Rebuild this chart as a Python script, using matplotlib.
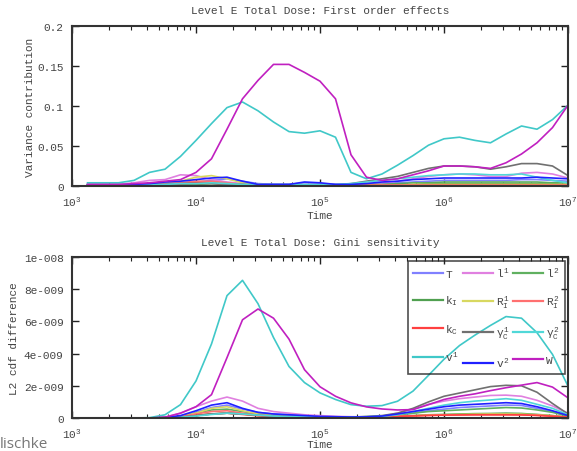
import matplotlib
matplotlib.use("Agg")
import matplotlib.pyplot as plt
from matplotlib.ticker import LogLocator, NullFormatter, FixedLocator, FixedFormatter
import numpy as np

plt.rcParams['font.family'] = ['Liberation Mono', 'DejaVu Sans']
plt.rcParams['mathtext.fontset'] = 'custom'
plt.rcParams['mathtext.rm'] = 'Liberation Mono'
plt.rcParams['mathtext.it'] = 'Liberation Mono'
plt.rcParams['mathtext.bf'] = 'Liberation Mono'

# time points
times = [1334, 1778, 2371, 3162, 4217, 5623, 7499, 10000, 13335, 17783, 23714,
         31623, 42170, 56234, 74989, 100000, 133352, 177828, 237137, 316228,
         421697, 562341, 749894, 1000000, 1333521, 1778279, 2371374, 3162278,
         4216965, 5623413, 7498942, 10000000]

labels = ['T', '$l^1$', '$l^2$', '$k_I$', '$R_I^1$', '$R_I^2$',
          '$k_C$', '$\\gamma_C^1$', '$\\gamma_C^2$', '$v^1$', '$v^2$', 'W']
colors = ['#8080ff', '#e080e0', '#60b060', '#50a050', '#d8d860', '#ff7070',
          '#ff4040', '#707070', '#50d8d8', '#40c8c8', '#2020ff', '#c020c0']

# first order effects (variance contribution)
fo_T = [0.001, 0.001, 0.001, 0.001, 0.002, 0.003, 0.004, 0.005, 0.007, 0.009, 0.006, 0.003, 0.002, 0.002, 0.004, 0.003,
        0.002, 0.002, 0.002, 0.003, 0.004, 0.005, 0.006, 0.007, 0.007, 0.007, 0.007, 0.007, 0.008, 0.008, 0.007, 0.006]
fo_l1 = [0.002, 0.002, 0.002, 0.004, 0.007, 0.008, 0.014, 0.013, 0.008, 0.005, 0.003, 0.002, 0.002, 0.002, 0.002, 0.002,
         0.002, 0.002, 0.003, 0.004, 0.006, 0.009, 0.012, 0.014, 0.015, 0.014, 0.012, 0.012, 0.016, 0.017, 0.015, 0.010]
fo_l2 = [0.001, 0.001, 0.001, 0.001, 0.001, 0.002, 0.003, 0.004, 0.004, 0.003, 0.002, 0.001, 0.001, 0.001, 0.001, 0.001,
         0.001, 0.001, 0.002, 0.002, 0.003, 0.004, 0.004, 0.005, 0.005, 0.005, 0.005, 0.005, 0.005, 0.005, 0.004, 0.004]
fo_kI = [0.001, 0.001, 0.001, 0.001, 0.001, 0.001, 0.002, 0.002, 0.003, 0.002, 0.001, 0.001, 0.001, 0.001, 0.001, 0.001,
         0.001, 0.001, 0.001, 0.001, 0.002, 0.002, 0.003, 0.003, 0.003, 0.003, 0.003, 0.003, 0.003, 0.003, 0.003, 0.002]
fo_RI1 = [0.001, 0.001, 0.001, 0.001, 0.002, 0.003, 0.006, 0.011, 0.013, 0.009, 0.004, 0.002, 0.001, 0.001, 0.001, 0.001,
          0.001, 0.001, 0.001, 0.001, 0.001, 0.002, 0.002, 0.002, 0.002, 0.002, 0.002, 0.002, 0.002, 0.002, 0.002, 0.002]
fo_RI2 = [0.001, 0.001, 0.001, 0.001, 0.002, 0.003, 0.004, 0.006, 0.006, 0.004, 0.002, 0.001, 0.001, 0.001, 0.001, 0.001,
          0.001, 0.001, 0.001, 0.001, 0.001, 0.001, 0.001, 0.001, 0.001, 0.001, 0.001, 0.001, 0.001, 0.001, 0.001, 0.001]
fo_kC = [0.001, 0.001, 0.001, 0.001, 0.001, 0.002, 0.003, 0.004, 0.004, 0.002, 0.001, 0.001, 0.001, 0.001, 0.001, 0.001,
         0.001, 0.001, 0.0005, 0.0005, 0.0005, 0.0005, 0.0005, 0.0005, 0.0005, 0.0005, 0.0005, 0.0005, 0.0005, 0.0005, 0.0005, 0.0005]
fo_gC1 = [0.001, 0.001, 0.001, 0.001, 0.002, 0.002, 0.003, 0.003, 0.003, 0.002, 0.002, 0.001, 0.001, 0.001, 0.001, 0.001,
          0.001, 0.003, 0.006, 0.009, 0.012, 0.017, 0.022, 0.025, 0.025, 0.024, 0.021, 0.024, 0.028, 0.028, 0.025, 0.013]
fo_gC2 = [0.002, 0.002, 0.002, 0.002, 0.002, 0.002, 0.003, 0.003, 0.004, 0.003, 0.002, 0.002, 0.002, 0.002, 0.002, 0.002,
          0.002, 0.003, 0.005, 0.007, 0.009, 0.011, 0.013, 0.014, 0.015, 0.015, 0.014, 0.014, 0.015, 0.011, 0.007, 0.004]
fo_v1 = [0.004, 0.004, 0.004, 0.007, 0.017, 0.021, 0.037, 0.057, 0.078, 0.098, 0.105, 0.094, 0.080, 0.068, 0.066, 0.069,
         0.061, 0.017, 0.009, 0.015, 0.026, 0.038, 0.051, 0.059, 0.061, 0.057, 0.054, 0.065, 0.075, 0.071, 0.083, 0.101]
fo_v2 = [0.001, 0.001, 0.001, 0.002, 0.003, 0.005, 0.006, 0.008, 0.010, 0.011, 0.006, 0.002, 0.002, 0.002, 0.005, 0.004,
         0.002, 0.002, 0.003, 0.005, 0.006, 0.008, 0.009, 0.010, 0.010, 0.010, 0.010, 0.010, 0.010, 0.011, 0.010, 0.009]
fo_W = [0.002, 0.002, 0.002, 0.003, 0.004, 0.006, 0.008, 0.017, 0.034, 0.071, 0.109, 0.132, 0.152, 0.152, 0.142, 0.131,
        0.109, 0.039, 0.011, 0.007, 0.009, 0.014, 0.019, 0.025, 0.025, 0.024, 0.022, 0.029, 0.040, 0.054, 0.073, 0.101]

# Gini sensitivity (L2 cdf difference, units of 1e-9)
gi_T = [0, 0, 0, 0, 0, 0.02, 0.1, 0.35, 0.65, 0.8, 0.55, 0.35, 0.25, 0.2, 0.15, 0.1,
        0.08, 0.06, 0.06, 0.1, 0.2, 0.3, 0.45, 0.55, 0.65, 0.7, 0.75, 0.8, 0.78, 0.6, 0.4, 0.12]
gi_l1 = [0, 0, 0, 0, 0, 0.05, 0.3, 0.7, 1.05, 1.3, 1.05, 0.6, 0.4, 0.3, 0.2, 0.15,
         0.1, 0.08, 0.07, 0.1, 0.3, 0.55, 0.85, 1.05, 1.2, 1.3, 1.4, 1.42, 1.35, 1.1, 0.75, 0.3]
gi_l2 = [0, 0, 0, 0, 0, 0.02, 0.1, 0.3, 0.5, 0.55, 0.4, 0.25, 0.15, 0.1, 0.08, 0.06,
         0.05, 0.04, 0.05, 0.1, 0.2, 0.3, 0.4, 0.45, 0.5, 0.55, 0.6, 0.65, 0.62, 0.5, 0.35, 0.12]
gi_kI = [0, 0, 0, 0, 0, 0.01, 0.05, 0.15, 0.25, 0.3, 0.25, 0.15, 0.1, 0.08, 0.06, 0.05,
         0.04, 0.03, 0.04, 0.06, 0.1, 0.15, 0.2, 0.22, 0.25, 0.27, 0.28, 0.3, 0.28, 0.22, 0.15, 0.06]
gi_RI1 = [0, 0, 0, 0, 0, 0.02, 0.1, 0.3, 0.6, 0.7, 0.45, 0.25, 0.15, 0.1, 0.08, 0.06,
          0.05, 0.04, 0.04, 0.06, 0.1, 0.14, 0.18, 0.2, 0.22, 0.24, 0.25, 0.25, 0.24, 0.2, 0.14, 0.05]
gi_RI2 = [0, 0, 0, 0, 0, 0.02, 0.08, 0.25, 0.4, 0.45, 0.3, 0.18, 0.12, 0.08, 0.06, 0.05,
          0.04, 0.03, 0.04, 0.06, 0.1, 0.13, 0.16, 0.18, 0.19, 0.2, 0.2, 0.2, 0.2, 0.17, 0.12, 0.05]
gi_kC = [0, 0, 0, 0, 0, 0.01, 0.05, 0.15, 0.25, 0.3, 0.22, 0.14, 0.1, 0.07, 0.05, 0.04,
         0.03, 0.03, 0.04, 0.06, 0.1, 0.13, 0.16, 0.18, 0.19, 0.2, 0.2, 0.2, 0.19, 0.16, 0.11, 0.05]
gi_gC1 = [0, 0, 0, 0, 0, 0.01, 0.05, 0.15, 0.25, 0.3, 0.25, 0.18, 0.12, 0.1, 0.08, 0.06,
          0.05, 0.05, 0.1, 0.15, 0.3, 0.6, 1.0, 1.35, 1.55, 1.75, 1.95, 2.03, 2.0, 1.6, 0.9, 0.25]
gi_gC2 = [0, 0, 0, 0, 0, 0.01, 0.05, 0.12, 0.22, 0.3, 0.25, 0.18, 0.12, 0.1, 0.08, 0.06,
          0.05, 0.05, 0.08, 0.1, 0.2, 0.4, 0.6, 0.8, 0.95, 1.05, 1.12, 1.2, 1.1, 0.85, 0.6, 0.2]
gi_v1 = [0, 0, 0, 0, 0.02, 0.2, 0.83, 2.3, 4.6, 7.6, 8.55, 7.1, 5.0, 3.2, 2.2, 1.56,
         1.15, 0.83, 0.73, 0.77, 1.04, 1.67, 2.65, 3.65, 4.5, 5.15, 5.75, 6.3, 6.2, 5.3, 3.95, 1.98]
gi_v2 = [0, 0, 0, 0, 0, 0.03, 0.15, 0.45, 0.8, 0.95, 0.6, 0.35, 0.25, 0.2, 0.15, 0.1,
         0.08, 0.06, 0.07, 0.12, 0.25, 0.4, 0.55, 0.7, 0.8, 0.85, 0.9, 0.95, 0.9, 0.7, 0.45, 0.15]
gi_W = [0, 0, 0, 0, 0, 0.05, 0.3, 0.7, 1.45, 3.75, 6.1, 6.77, 6.2, 4.9, 3.0, 1.94,
        1.35, 0.94, 0.69, 0.56, 0.5, 0.52, 0.83, 1.15, 1.35, 1.5, 1.7, 1.88, 2.04, 2.2, 1.92, 1.25]

first_order = [fo_T, fo_l1, fo_l2, fo_kI, fo_RI1, fo_RI2, fo_kC, fo_gC1, fo_gC2, fo_v1, fo_v2, fo_W]
gini = [gi_T, gi_l1, gi_l2, gi_kI, gi_RI1, gi_RI2, gi_kC, gi_gC1, gi_gC2, gi_v1, gi_v2, gi_W]

top_yticks = [0, 0.05, 0.1, 0.15, 0.2]
top_ylabels = ['0', '0.05', '0.1', '0.15', '0.2']
bot_yticks = [0, 2e-9, 4e-9, 6e-9, 8e-9, 1e-8]
bot_ylabels = ['0', '2e-009', '4e-009', '6e-009', '8e-009', '1e-008']
xticks = [1e3, 1e4, 1e5, 1e6, 1e7]
xlabels = ['$10^3$', '$10^4$', '$10^5$', '$10^6$', '$10^7$']

W, H = 577, 452
fig = plt.figure(figsize=(W / 100, H / 100), dpi=100)
ax1 = fig.add_axes([72 / W, 1 - 187 / H, 496 / W, 160 / H])
ax2 = fig.add_axes([72 / W, 1 - 419 / H, 496 / W, 161 / H])

txt_col = '#444444'


def style_axes(ax, yticks, ylabels, ylim):
    ax.set_xscale('log')
    ax.set_xlim(1e3, 1e7)
    ax.set_ylim(*ylim)
    ax.xaxis.set_major_locator(FixedLocator(xticks))
    ax.xaxis.set_major_formatter(FixedFormatter(xlabels))
    ax.xaxis.set_minor_locator(LogLocator(base=10, subs=np.arange(2, 10)))
    ax.xaxis.set_minor_formatter(NullFormatter())
    ax.set_yticks(yticks)
    ax.set_yticklabels(ylabels)
    ax.tick_params(which='both', direction='in', top=True, right=True,
                   color='#222222', labelcolor=txt_col, labelsize=8, pad=6)
    ax.tick_params(which='major', length=5, width=1)
    ax.tick_params(which='minor', length=3, width=0.8)
    for s in ax.spines.values():
        s.set_linewidth(1.5)
        s.set_color('#333333')
    ax.set_xlabel('Time', fontsize=8, color=txt_col)


handles = []
for vals, lab, col in zip(first_order, labels, colors):
    ax1.plot(times, vals, color=col, lw=1.2, label=lab)
for vals, lab, col in zip(gini, labels, colors):
    h, = ax2.plot(times, np.array(vals) * 1e-9, color=col, lw=1.2, label=lab)
    handles.append(h)

style_axes(ax1, top_yticks, top_ylabels, (0, 0.2))
style_axes(ax2, bot_yticks, bot_ylabels, (0, 1e-8))

ax1.set_title('Level E Total Dose: First order effects', fontsize=8, color=txt_col, pad=9)
ax2.set_title('Level E Total Dose: Gini sensitivity', fontsize=8, color=txt_col, pad=9)
ax1.set_ylabel('Variance contribution', fontsize=8, color=txt_col)
ax2.set_ylabel('L2 cdf difference', fontsize=8, color=txt_col)
ax1.yaxis.set_label_coords(-0.075, 0.5)
ax2.yaxis.set_label_coords(-0.107, 0.5)
ax1.xaxis.set_label_coords(0.5, -0.15)
ax2.xaxis.set_label_coords(0.5, -0.13)

# legend filled row by row (3 columns)
order = [0, 3, 6, 9, 1, 4, 7, 10, 2, 5, 8, 11]
leg = ax2.legend([handles[i] for i in order], [labels[i] for i in order],
                 ncol=3, loc='upper right', bbox_to_anchor=(0.993, 0.975),
                 borderaxespad=0, fontsize=8, frameon=True, fancybox=False,
                 handlelength=2.7, handletextpad=0.25, columnspacing=0.35,
                 labelspacing=1.3, borderpad=0.45)
leg.get_frame().set_facecolor('none')
leg.get_frame().set_edgecolor('#222222')
leg.get_frame().set_linewidth(1.2)
for t in leg.get_texts():
    t.set_color(txt_col)
for l in leg.get_lines():
    l.set_linewidth(1.6)

fig.text(0.0, 1 - 448 / H, 'lischke', fontsize=11, color='#777777',
         family='Open Sans', va='baseline', ha='left')

fig.savefig('out.png', dpi=100)
